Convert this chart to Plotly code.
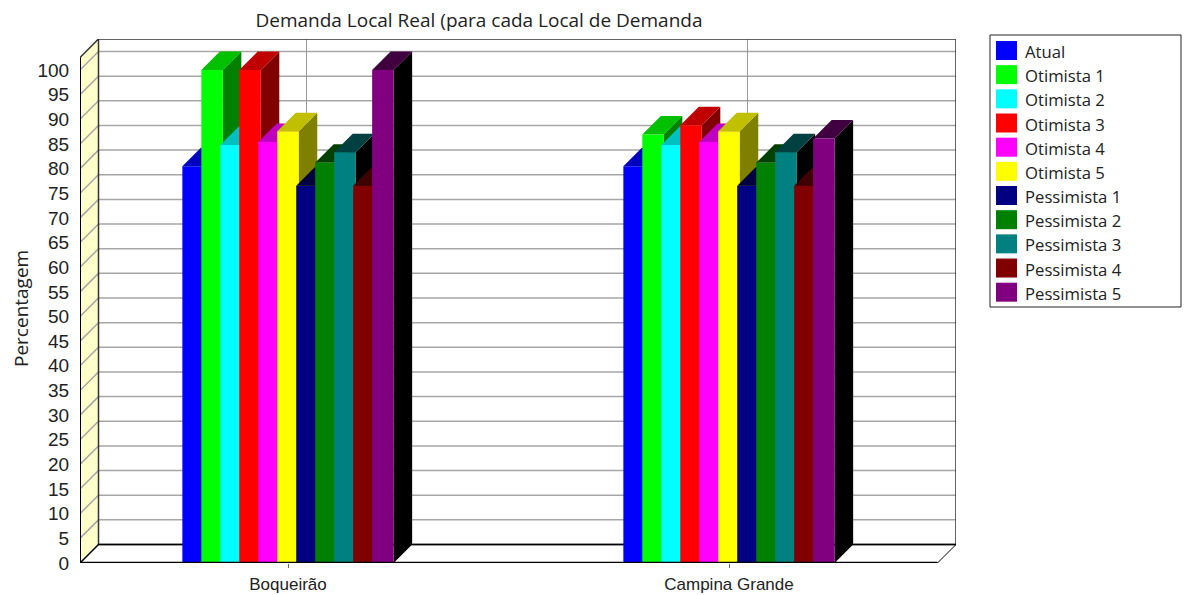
import plotly.graph_objects as go

categories = ['Boqueirão', 'Campina Grande']
series_names = ['Atual', 'Otimista 1', 'Otimista 2', 'Otimista 3', 'Otimista 4', 'Otimista 5',
                'Pessimista 1', 'Pessimista 2', 'Pessimista 3', 'Pessimista 4', 'Pessimista 5']
boqueirao = [80.5, 100, 84.8, 100, 85.4, 87.6, 76.5, 81.2, 83.3, 76.5, 100]
campina_grande = [80.5, 86.9, 84.8, 88.8, 85.4, 87.6, 76.5, 81.2, 83.3, 76.5, 86.1]
y_ticks = list(range(0, 105, 5))

front_colors = ['#0000ff', '#00ff00', '#00ffff', '#ff0000', '#ff00ff', '#ffff00',
                '#000080', '#008000', '#008080', '#800000', '#800080']
top_colors = ['#0000c0', '#00c000', '#00c0c0', '#c00000', '#c000c0', '#c0c000',
              '#000040', '#004000', '#004040', '#400000', '#400040']
side_colors = ['#000080', '#008000', '#008080', '#800000', '#800080', '#808000',
               '#000000', '#000000', '#000000', '#000000', '#000000']

# plot area in pixels, the axes are scaled so one category = 441px, one % = 4.93px
WIDTH, HEIGHT = 1186, 595
LEFT, RIGHT, TOP, BOTTOM = 80, 956, 39, 563
PX_X = 441
PX_Y = 4.93
CENTER = 288
DX = 18.5 / PX_X
DY = 18.5 / PX_Y
SLOT = 18.98 / PX_X
BAR_W = 21.5 / PX_X
X0 = -(CENTER - LEFT) / PX_X
X1 = (RIGHT - CENTER) / PX_X
Y1 = (BOTTOM - TOP) / PX_Y
FRONT_X1 = X1 - DX
TOP_FRONT = Y1 - DY

GRID = '#a6a6a6'


def poly(fig, xs, ys, color):
    fig.add_trace(go.Scatter(x=xs, y=ys, mode='lines', fill='toself', fillcolor=color,
                             line=dict(width=0), hoverinfo='skip', showlegend=False))


def line(fig, xs, ys, color, width=1):
    fig.add_trace(go.Scatter(x=xs, y=ys, mode='lines', line=dict(color=color, width=width),
                             hoverinfo='skip', showlegend=False, cliponaxis=False))


fig = go.Figure()

# walls
poly(fig, [X0, X0 + DX, X0 + DX, X0], [0, DY, Y1, TOP_FRONT], '#ffffcc')

for v in y_ticks[1:]:
    line(fig, [X0, X0 + DX, X1], [v, v + DY, v + DY], GRID, 1.5)
for i in range(len(categories)):
    line(fig, [i + DX, i + DX], [DY, Y1], '#999999', 1)

line(fig, [X0, X0 + DX, X1, X1, X0 + DX, X0 + DX], [TOP_FRONT, Y1, Y1, DY, DY, Y1], '#333333', 1.5)
line(fig, [X0, X0 + DX, X1], [0, DY, DY], '#000000', 1.5)
line(fig, [FRONT_X1, X1], [0, DY], '#000000', 1)

# bars, painted left to right so each one covers the side of the one before
for i, values in enumerate([boqueirao, campina_grande]):
    start = i - (SLOT * 10 + BAR_W) / 2
    for j, v in enumerate(values):
        x_l = start + j * SLOT
        x_r = x_l + BAR_W
        poly(fig, [x_r, x_r + DX, x_r + DX, x_r], [0, DY, v + DY, v], side_colors[j])
        poly(fig, [x_l, x_r, x_r + DX, x_l + DX], [v, v, v + DY, v + DY], top_colors[j])
        poly(fig, [x_l, x_r, x_r, x_l], [0, 0, v, v], front_colors[j])

line(fig, [X0, X0], [0, TOP_FRONT], '#000000', 2)
line(fig, [X0, FRONT_X1], [0, 0], '#000000', 2.5)


def px_x(px):
    return (px - LEFT) / (RIGHT - LEFT)


def px_y(px):
    return (BOTTOM - px) / (BOTTOM - TOP)


# legend
shapes = [dict(type='rect', xref='paper', yref='paper', x0=px_x(990), x1=px_x(1181),
               y0=px_y(307), y1=px_y(35), line=dict(color='#222222', width=1), fillcolor='white')]
annotations = []
for j, name in enumerate(series_names):
    y_top = 41 + j * 24.17
    shapes.append(dict(type='rect', xref='paper', yref='paper', x0=px_x(996), x1=px_x(1017),
                       y0=px_y(y_top + 19), y1=px_y(y_top), line=dict(width=0),
                       fillcolor=front_colors[j]))
    annotations.append(dict(text=name, xref='paper', yref='paper', x=px_x(1023), y=px_y(y_top + 10.5),
                            xanchor='left', yanchor='middle', showarrow=False,
                            font=dict(family='Open Sans', size=16.7, color='#222222')))

annotations.append(dict(text='Percentagem', xref='paper', yref='paper', x=px_x(21), y=px_y(309),
                        textangle=-90, xanchor='center', yanchor='middle', showarrow=False,
                        font=dict(family='Open Sans', size=19, color='#222222')))

fig.update_layout(
    width=WIDTH, height=HEIGHT,
    margin=dict(l=LEFT, r=WIDTH - RIGHT, t=TOP, b=HEIGHT - BOTTOM, autoexpand=False),
    plot_bgcolor='white', paper_bgcolor='white',
    showlegend=False,
    title=dict(text='Demanda Local Real (para cada Local de Demanda', x=479 / WIDTH, xanchor='center',
               y=1 - 20 / HEIGHT, yanchor='middle',
               font=dict(family='Open Sans', size=19, color='#222222')),
    xaxis=dict(range=[X0, X1], tickvals=[0, 1], ticktext=categories, showgrid=False, zeroline=False,
               showline=False, ticks='outside', ticklen=4, tickcolor='#666666', ticklabelstandoff=2,
               tickfont=dict(family='Liberation Sans', size=17, color='#222222')),
    yaxis=dict(range=[0, Y1], tickvals=y_ticks, showgrid=False, zeroline=False, showline=False,
               ticks='outside', ticklen=6, tickcolor='rgba(0,0,0,0)',
               tickfont=dict(family='Liberation Sans', size=19, color='#222222')),
    shapes=shapes,
    annotations=annotations,
)

fig.write_html('out.html', post_script="document.body.style.margin='0';",
               config=dict(displayModeBar=False))
